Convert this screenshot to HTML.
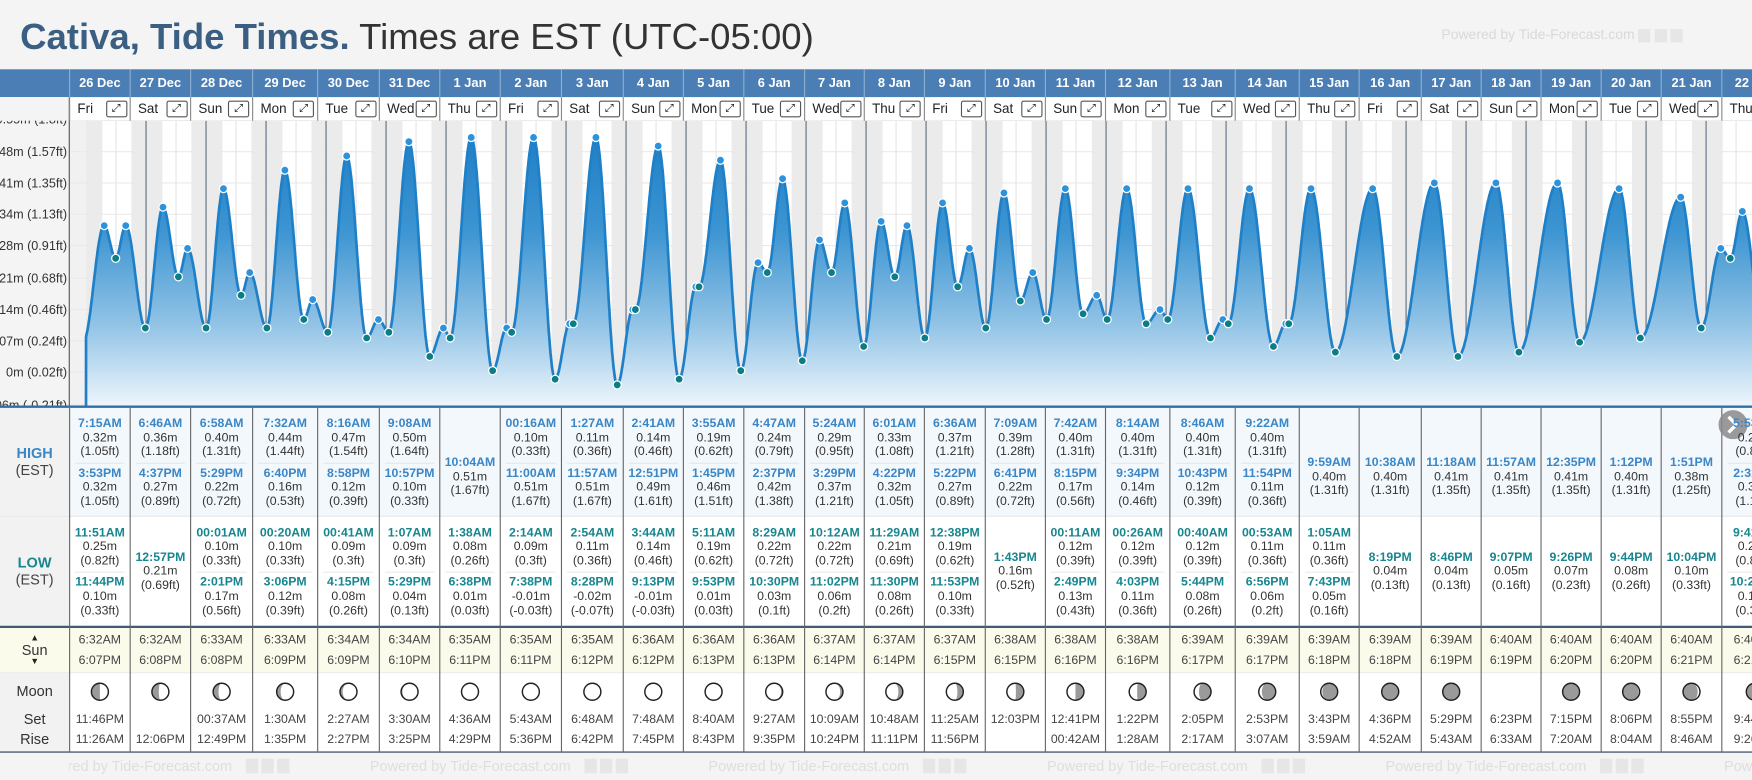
<!DOCTYPE html>
<html><head><meta charset="utf-8">
<style>
html,body{margin:0;padding:0;width:1752px;height:780px;overflow:hidden;background:#f4f4f4;font-family:"Liberation Sans",sans-serif;}
#w{position:absolute;left:0;top:0;width:1568px;height:698px;transform:scale(1.11735,1.11748);transform-origin:0 0;overflow:hidden;background:#f4f4f4;}
.a{position:absolute;}
.c{position:absolute;text-align:center;white-space:nowrap;font-size:11px;line-height:12px;color:#333;}
.ht{font-weight:bold;color:#3a86c6;}
.lt{font-weight:bold;color:#17868f;}
</style></head><body>
<div id="w">
  <div class="a" style="left:18px;top:13px;font-size:32.7px;line-height:40px;white-space:nowrap;color:#333;"><b style="color:#3b5f82">Cativa, Tide Times.</b> Times are EST (UTC-05:00)</div>
  <div class="a" style="left:1290px;top:24px;font-size:12.5px;color:#d9d9d9;white-space:nowrap;">Powered by Tide-Forecast.com <span style="display:inline-block;width:11px;height:12px;background:#e6e6e6;vertical-align:middle"></span> <span style="display:inline-block;width:11px;height:12px;background:#e6e6e6;vertical-align:middle"></span> <span style="display:inline-block;width:11px;height:12px;background:#e6e6e6;vertical-align:middle"></span></div>
  <div class="a" style="left:0;top:62px;width:1568px;height:25px;background:#4a7eb4;"></div>
  <div class="a" style="left:0;top:87px;width:1568px;height:21px;background:#fff;border-bottom:1px solid #9aa;"></div>
  <div class="a" style="left:0;top:87px;width:62px;height:21px;background:#f4f4f4;"></div>
  <svg id="chart" class="a" style="left:0;top:0" width="1568" height="698"></svg>
  <div id="cells"></div>
</div>
<script>
const dates=["26 Dec","27 Dec","28 Dec","29 Dec","30 Dec","31 Dec","1 Jan","2 Jan","3 Jan","4 Jan","5 Jan","6 Jan","7 Jan","8 Jan","9 Jan","10 Jan","11 Jan","12 Jan","13 Jan","14 Jan","15 Jan","16 Jan","17 Jan","18 Jan","19 Jan","20 Jan","21 Jan","22 Jan"];
const weekdays=["Fri","Sat","Sun","Mon","Tue","Wed","Thu","Fri","Sat","Sun","Mon","Tue","Wed","Thu","Fri","Sat","Sun","Mon","Tue","Wed","Thu","Fri","Sat","Sun","Mon","Tue","Wed","Thu"];
const highs=[
[["7:15AM","0.32","1.05"],["3:53PM","0.32","1.05"]],
[["6:46AM","0.36","1.18"],["4:37PM","0.27","0.89"]],
[["6:58AM","0.40","1.31"],["5:29PM","0.22","0.72"]],
[["7:32AM","0.44","1.44"],["6:40PM","0.16","0.53"]],
[["8:16AM","0.47","1.54"],["8:58PM","0.12","0.39"]],
[["9:08AM","0.50","1.64"],["10:57PM","0.10","0.33"]],
[["10:04AM","0.51","1.67"]],
[["00:16AM","0.10","0.33"],["11:00AM","0.51","1.67"]],
[["1:27AM","0.11","0.36"],["11:57AM","0.51","1.67"]],
[["2:41AM","0.14","0.46"],["12:51PM","0.49","1.61"]],
[["3:55AM","0.19","0.62"],["1:45PM","0.46","1.51"]],
[["4:47AM","0.24","0.79"],["2:37PM","0.42","1.38"]],
[["5:24AM","0.29","0.95"],["3:29PM","0.37","1.21"]],
[["6:01AM","0.33","1.08"],["4:22PM","0.32","1.05"]],
[["6:36AM","0.37","1.21"],["5:22PM","0.27","0.89"]],
[["7:09AM","0.39","1.28"],["6:41PM","0.22","0.72"]],
[["7:42AM","0.40","1.31"],["8:15PM","0.17","0.56"]],
[["8:14AM","0.40","1.31"],["9:34PM","0.14","0.46"]],
[["8:46AM","0.40","1.31"],["10:43PM","0.12","0.39"]],
[["9:22AM","0.40","1.31"],["11:54PM","0.11","0.36"]],
[["9:59AM","0.40","1.31"]],
[["10:38AM","0.40","1.31"]],
[["11:18AM","0.41","1.35"]],
[["11:57AM","0.41","1.35"]],
[["12:35PM","0.41","1.35"]],
[["1:12PM","0.40","1.31"]],
[["1:51PM","0.38","1.25"]],
[["5:53AM","0.27","0.89"],["2:31PM","0.35","1.15"]]];
const lows=[
[["11:51AM","0.25","0.82"],["11:44PM","0.10","0.33"]],
[["12:57PM","0.21","0.69"]],
[["00:01AM","0.10","0.33"],["2:01PM","0.17","0.56"]],
[["00:20AM","0.10","0.33"],["3:06PM","0.12","0.39"]],
[["00:41AM","0.09","0.3"],["4:15PM","0.08","0.26"]],
[["1:07AM","0.09","0.3"],["5:29PM","0.04","0.13"]],
[["1:38AM","0.08","0.26"],["6:38PM","0.01","0.03"]],
[["2:14AM","0.09","0.3"],["7:38PM","-0.01","-0.03"]],
[["2:54AM","0.11","0.36"],["8:28PM","-0.02","-0.07"]],
[["3:44AM","0.14","0.46"],["9:13PM","-0.01","-0.03"]],
[["5:11AM","0.19","0.62"],["9:53PM","0.01","0.03"]],
[["8:29AM","0.22","0.72"],["10:30PM","0.03","0.1"]],
[["10:12AM","0.22","0.72"],["11:02PM","0.06","0.2"]],
[["11:29AM","0.21","0.69"],["11:30PM","0.08","0.26"]],
[["12:38PM","0.19","0.62"],["11:53PM","0.10","0.33"]],
[["1:43PM","0.16","0.52"]],
[["00:11AM","0.12","0.39"],["2:49PM","0.13","0.43"]],
[["00:26AM","0.12","0.39"],["4:03PM","0.11","0.36"]],
[["00:40AM","0.12","0.39"],["5:44PM","0.08","0.26"]],
[["00:53AM","0.11","0.36"],["6:56PM","0.06","0.2"]],
[["1:05AM","0.11","0.36"],["7:43PM","0.05","0.16"]],
[["8:19PM","0.04","0.13"]],
[["8:46PM","0.04","0.13"]],
[["9:07PM","0.05","0.16"]],
[["9:26PM","0.07","0.23"]],
[["9:44PM","0.08","0.26"]],
[["10:04PM","0.10","0.33"]],
[["9:41AM","0.25","0.82"],["10:25PM","0.12","0.39"]]];
const sunRise=["6:32AM","6:32AM","6:33AM","6:33AM","6:34AM","6:34AM","6:35AM","6:35AM","6:35AM","6:36AM","6:36AM","6:36AM","6:37AM","6:37AM","6:37AM","6:38AM","6:38AM","6:38AM","6:39AM","6:39AM","6:39AM","6:39AM","6:39AM","6:40AM","6:40AM","6:40AM","6:40AM","6:40AM"];
const sunSet=["6:07PM","6:08PM","6:08PM","6:09PM","6:09PM","6:10PM","6:11PM","6:11PM","6:12PM","6:12PM","6:13PM","6:13PM","6:14PM","6:14PM","6:15PM","6:15PM","6:16PM","6:16PM","6:17PM","6:17PM","6:18PM","6:18PM","6:19PM","6:19PM","6:20PM","6:20PM","6:21PM","6:21PM"];
const moonSet=["11:46PM","","00:37AM","1:30AM","2:27AM","3:30AM","4:36AM","5:43AM","6:48AM","7:48AM","8:40AM","9:27AM","10:09AM","10:48AM","11:25AM","12:03PM","12:41PM","1:22PM","2:05PM","2:53PM","3:43PM","4:36PM","5:29PM","6:23PM","7:15PM","8:06PM","8:55PM","9:44PM"];
const moonRise=["11:26AM","12:06PM","12:49PM","1:35PM","2:27PM","3:25PM","4:29PM","5:36PM","6:42PM","7:45PM","8:43PM","9:35PM","10:24PM","11:11PM","11:56PM","","00:42AM","1:28AM","2:17AM","3:07AM","3:59AM","4:52AM","5:43AM","6:33AM","7:20AM","8:04AM","8:46AM","9:26AM"];
const moonPhase=[0.25,0.28,0.31,0.34,0.37,0.41,0.45,0.48,0.5,0.53,0.56,0.6,0.63,0.67,0.7,0.74,0.75,0.76,0.82,0.86,0.9,0.94,0.97,null,0.05,0.08,0.12,0.15];
const tickM=["-0.06m","0m","0.07m","0.14m","0.21m","0.28m","0.34m","0.41m","0.48m","0.55m"];
const tickFt=[-0.21,0.02,0.24,0.46,0.68,0.91,1.13,1.35,1.57,1.8];
const startLevelFt=[-0.05,0.23];

const colX=[62.3,116.5,170.6,226.1,284.3,339.5,393.6,447.7,502.5,557.8,611.6,665.7,720.1,773.5,827.3,881.8,935.6,989.4,1047,1105.5,1162.8,1216.4,1272,1325.6,1379.2,1433,1486.7,1541,1600];
const CT=108,CB=364,X0=77,DX=53.7;
const xT=t=>X0+t*DX;
const yF=ft=>333-(ft-0.02)/0.22*28;
function parseT(s){const m=s.match(/(\d+):(\d+)(AM|PM)/);let h=+m[1]%12;if(m[3]=="PM")h+=12;return h+(+m[2])/60;}
const NS="http://www.w3.org/2000/svg";
const svg=document.getElementById('chart');
function mk(tag,attrs,parent){const e=document.createElementNS(NS,tag);for(const k in attrs)e.setAttribute(k,attrs[k]);(parent||svg).appendChild(e);return e;}

const defs=mk('defs',{});
defs.innerHTML='<linearGradient id="fillg" x1="0" y1="0" x2="0" y2="1"><stop offset="0" stop-color="#1f7fc6"/><stop offset="0.35" stop-color="#3d95d2"/><stop offset="0.7" stop-color="#93c4e6"/><stop offset="1" stop-color="#eef6fc"/></linearGradient><clipPath id="cc"><rect x="62" y="108" width="1506" height="256"/></clipPath>';

const bg=mk('g',{'clip-path':'url(#cc)'});


mk('rect',{x:62,y:CT,width:1506,height:CB-CT,fill:'#fff'},bg);
mk('rect',{x:62,y:CT,width:X0-62,height:CB-CT,fill:'#f1f1f1'},bg);
let prevSet=-1;
for(let i=0;i<dates.length;i++){
  const r=i+parseT(sunRise[i])/24;
  const from=prevSet<0?0:prevSet;
  const nb=mk('rect',{x:xT(from),y:CT,width:xT(r)-xT(from),height:CB-CT,fill:'#ebebeb'},bg);
  
  
  prevSet=i+parseT(sunSet[i])/24;
}
mk('rect',{x:xT(prevSet),y:CT,width:1568,height:CB-CT,fill:'#ebebeb'},bg);
tickFt.forEach(f=>{mk('line',{x1:62,x2:1568,y1:yF(f),y2:yF(f),stroke:'#e9e9e9','stroke-width':1},bg);});
for(let i=0;i<dates.length;i++){
  mk('line',{x1:xT(i+0.5),x2:xT(i+0.5),y1:CT,y2:CB,stroke:'#e4e4e4','stroke-width':1},bg);
  if(i>0){const ml=mk('line',{x1:xT(i),x2:xT(i),y1:CT,y2:CB,stroke:'#5d6f82','stroke-width':1},bg);
  
  }
}
const ext=[{t:startLevelFt[0],ft:startLevelFt[1],type:null}];
for(let i=0;i<dates.length;i++){
  highs[i].forEach(h=>ext.push({t:i+parseT(h[0])/24,ft:+h[2],type:'H'}));
  lows[i].forEach(l=>ext.push({t:i+parseT(l[0])/24,ft:+l[2],type:'L'}));
}
ext.sort((a,b)=>a.t-b.t);
function level(t){
  for(let k=0;k<ext.length-1;k++){const a=ext[k],b=ext[k+1];
    if(t>=a.t&&t<=b.t){const f=(t-a.t)/(b.t-a.t);return a.ft+(b.ft-a.ft)*(1-Math.cos(Math.PI*f))/2;}}
  const a=ext[ext.length-1];return a.ft;
}
const tEnd=(1570-X0)/DX;
let pts=[];
for(let t=0;t<=tEnd;t+=0.01){pts.push([xT(t),yF(level(t))]);}
const line='M'+pts.map(p=>p[0].toFixed(1)+','+p[1].toFixed(1)).join('L');
const cg=mk('g',{'clip-path':'url(#cc)'});
const area=mk('path',{d:line+'L'+pts[pts.length-1][0].toFixed(1)+','+CB+'L'+X0+','+CB+'Z',fill:'url(#fillg)'},cg);


const lp=mk('path',{d:line,fill:'none',stroke:'#1f80c8','stroke-width':2.4},cg);


mk('line',{x1:X0,x2:X0,y1:pts[0][1],y2:CB,stroke:'#1f80c8','stroke-width':2.4},cg);
ext.forEach(e=>{if(!e.type)return;const x=xT(e.t);if(x>1572)return;
  const d=mk('circle',{cx:x,cy:yF(e.ft),r:3.6,fill:e.type=='H'?'#2d92dc':'#0b7d86',stroke:'#fff','stroke-width':1.1},cg);
  
  
});
mk('rect',{x:0,y:CT,width:62,height:CB-CT,fill:'#f4f4f4'});
tickFt.forEach((f,i)=>{const tx=mk('text',{x:60,y:yF(f)+4,'text-anchor':'end','font-size':11.3,fill:'#333','font-family':'Liberation Sans, sans-serif'});tx.textContent=tickM[i]+' ('+f+'ft)';
  
  });
mk('rect',{x:0,y:87,width:62,height:21,fill:'#f4f4f4'});
mk('line',{x1:62,x2:62,y1:87,y2:364,stroke:'#555','stroke-width':1});
mk('line',{x1:0,x2:1568,y1:364,y2:364,stroke:'#2e6fa8','stroke-width':2.2});

mk('rect',{x:0,y:365,width:62,height:308,fill:'#f2f2f2'});
mk('rect',{x:62,y:365,width:1506,height:97,fill:'#f3f8fc'});
mk('rect',{x:62,y:462,width:1506,height:99,fill:'#fff'});
mk('rect',{x:0,y:561,width:1568,height:41,fill:'#fbfbec'});
mk('rect',{x:62,y:602,width:1506,height:71,fill:'#fff'});
mk('rect',{x:0,y:673,width:1568,height:25,fill:'#f4f4f4'});
mk('line',{x1:0,x2:1568,y1:462,y2:462,stroke:'#e8e8e8'});
mk('line',{x1:0,x2:1568,y1:561,y2:561,stroke:'#3f5b77','stroke-width':2});
mk('line',{x1:0,x2:1568,y1:602,y2:602,stroke:'#ececec'});
mk('line',{x1:0,x2:1568,y1:673,y2:673,stroke:'#4a5d70','stroke-width':1.2});

const cells=document.getElementById('cells');
function txt(x,y,w,s,cls,name){const d=document.createElement('div');d.className='c '+(cls||'');d.style.left=x+'px';d.style.top=(y-6)+'px';d.style.width=w+'px';d.textContent=s;
  
  
  cells.appendChild(d);return d;}
for(let i=0;i<dates.length;i++){
  const x=colX[i],w=colX[i+1]-x,cx=x+w/2;
  mk('line',{x1:x,x2:x,y1:62,y2:87,stroke:'#8fb0d2'});
  mk('line',{x1:x,x2:x,y1:87,y2:108,stroke:'#888'});
  mk('line',{x1:x,x2:x,y1:365,y2:673,stroke:'#666'});
  const hd=txt(x,75,w,dates[i],'','date-header');hd.style.color='#fff';hd.style.fontWeight='bold';hd.style.fontSize='11.5px';
  const dn=document.createElement('div');dn.className='a';dn.style.cssText='left:'+(x+7)+'px;top:90px;font-size:12px;line-height:15px;color:#222;white-space:nowrap;';dn.textContent=weekdays[i];
  
  
  cells.appendChild(dn);
  const ex=document.createElement('div');ex.className='a';ex.style.cssText='left:'+(x+w-22)+'px;top:90px;width:17px;height:13px;border:1px solid #555;border-radius:2px;background:#fff;font-size:10px;line-height:13px;text-align:center;color:#111;';ex.textContent='⤢';
  
  
  cells.appendChild(ex);
  const H=highs[i];
  if(H.length==2){
    [[378.9,H[0]],[423.6,H[1]]].forEach(([y,h])=>{txt(x,y,w,h[0],'ht','high-time');txt(x,y+12.6,w,h[1]+'m','','high-height-m');txt(x,y+25.2,w,'('+h[2]+'ft)','','high-height-ft');});
    mk('line',{x1:x+5,x2:x+w-5,y1:414.6,y2:414.6,stroke:'#e3e9ef'});
  } else {const h=H[0];txt(x,414.2,w,h[0],'ht','high-time');txt(x,426.8,w,h[1]+'m','','high-height-m');txt(x,439.4,w,'('+h[2]+'ft)','','high-height-ft');}
  const L=lows[i];
  if(L.length==2){
    [[476.6,L[0]],[521.4,L[1]]].forEach(([y,l])=>{txt(x,y,w,l[0],'lt','low-time');txt(x,y+12.6,w,l[1]+'m','','low-height-m');txt(x,y+25.2,w,'('+l[2]+'ft)','','low-height-ft');});
    mk('line',{x1:x+5,x2:x+w-5,y1:512,y2:512,stroke:'#ececec'});
  } else {const l=L[0];txt(x,498.7,w,l[0],'lt','low-time');txt(x,511.3,w,l[1]+'m','','low-height-m');txt(x,523.9,w,'('+l[2]+'ft)','','low-height-ft');}
  txt(x,573.3,w,sunRise[i],'','sunrise-time').style.color='#444';
  txt(x,591.2,w,sunSet[i],'','sunset-time').style.color='#444';
  txt(x,644.3,w,moonSet[i],'','moonset-time').style.color='#444';
  txt(x,662.2,w,moonRise[i],'','moonrise-time').style.color='#444';
  const p=moonPhase[i];
  if(p!==null){
    const cy=619,r=7.6,g=mk('g',{});
    
    
    mk('circle',{cx:cx,cy:cy,r:r,fill:'#9a9a9a'},g);
    const rx=Math.abs(Math.cos(2*Math.PI*p))*r;
    let d;
    if(p<0.5){const gib=p>0.25;d=`M${cx},${cy-r}A${r},${r} 0 0 1 ${cx},${cy+r}A${rx},${r} 0 0 ${gib?1:0} ${cx},${cy-r}Z`;}
    else{const gib=p<0.75;d=`M${cx},${cy-r}A${r},${r} 0 0 0 ${cx},${cy+r}A${rx},${r} 0 0 ${gib?0:1} ${cx},${cy-r}Z`;}
    mk('path',{d:d,fill:'#fff'},g);
    mk('circle',{cx:cx,cy:cy,r:r,fill:'none',stroke:'#222','stroke-width':1.3},g);
  }
}
function lab(y,s,style,name){const d=txt(0,y,62,s,'',name);d.style.cssText+=';font-size:13px;line-height:14px;top:'+(y-7)+'px;'+(style||'');}
lab(406.2,'HIGH','font-weight:bold;color:#3a86c6','high-label');
lab(421,'(EST)','color:#444','high-est-label');
lab(503.5,'LOW','font-weight:bold;color:#17868f','low-label');
lab(519,'(EST)','color:#444','low-est-label');
lab(571,'▲','font-size:8px;color:#222','sunrise-arrow');
lab(581.6,'Sun','color:#333','sun-label');
lab(592,'▼','font-size:8px;color:#222','sunset-arrow');
lab(619,'Moon','color:#333','moon-label');
lab(644.3,'Set','color:#333','moonset-label');
lab(662.2,'Rise','color:#333','moonrise-label');
const fg=mk('g',{});


mk('clipPath',{id:'fc'},defs).innerHTML='<rect x="62" y="673" width="1506" height="25"/>';
for(let k=0;k<6;k++){const fx=28+k*303;const t=mk('text',{x:fx,y:690,'font-size':13,fill:'#dedede','font-family':'Liberation Sans, sans-serif','clip-path':'url(#fc)'},fg);t.textContent='Powered by Tide-Forecast.com';
  for(let j=0;j<3;j++)mk('rect',{x:fx+192+j*14,y:679,width:11,height:13,fill:'#e6e6e6','clip-path':'url(#fc)'},fg);}
const nb2=mk('g',{});


mk('circle',{cx:1551,cy:380,r:13,fill:'#8a8a8a',opacity:0.85},nb2);
mk('path',{d:'M1547,373L1554,380L1547,387',fill:'none',stroke:'#fff','stroke-width':3},nb2);
</script>
</body></html>
